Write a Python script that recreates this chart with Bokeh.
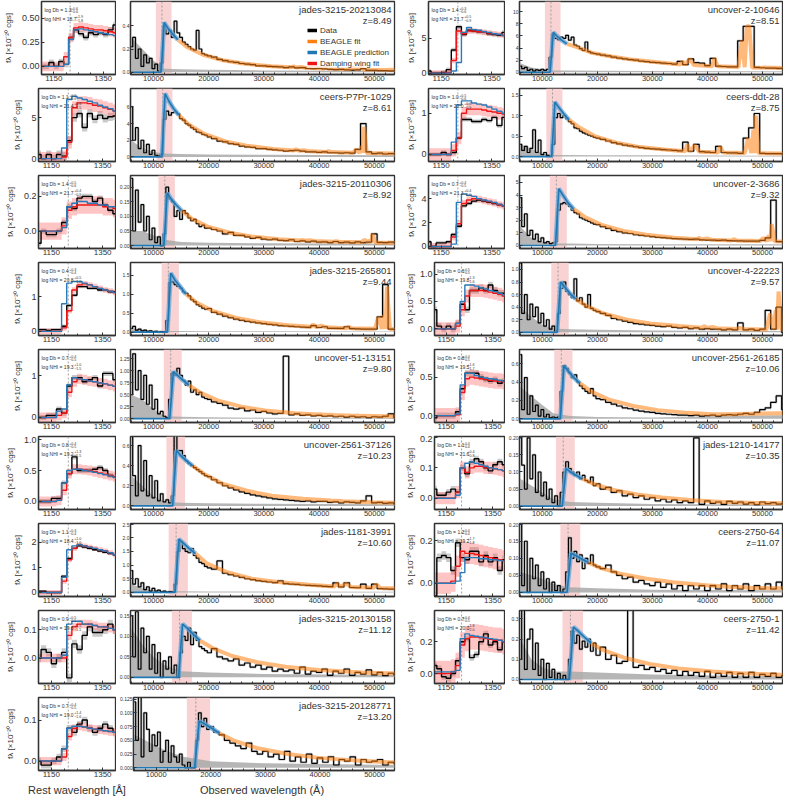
import numpy as np
from bokeh.plotting import figure
from bokeh.layouts import column, row
from bokeh.models import (Range1d, FixedTicker, BoxAnnotation, Span, Legend, LegendItem,
                          Label, PrintfTickFormatter, Div)
from bokeh.embed import file_html
from bokeh.resources import INLINE

FONT = "Liberation Sans"
INK = "#333333"
ORANGE = "#ff7f0e"
BLUE = "#1f77b4"
RED = "#f01414"

# ---------------- panel meta data ----------------
NAMES = ["jades-3215-20213084", "ceers-P7Pr-1029", "jades-3215-20110306", "jades-3215-265801",
         "uncover-51-13151", "uncover-2561-37126", "jades-1181-3991", "jades-3215-20130158",
         "jades-3215-20128771",
         "uncover-2-10646", "ceers-ddt-28", "uncover-2-3686", "uncover-4-22223",
         "uncover-2561-26185", "jades-1210-14177", "ceers-2750-64", "ceers-2750-1"]
ZS = [8.49, 8.61, 8.92, 9.44, 9.80, 10.23, 10.60, 11.12, 13.20,
      8.51, 8.75, 9.32, 9.57, 10.06, 10.35, 11.07, 11.42]
DB = [1.3, 1.1, 1.4, 0.4, 0.7, 0.8, 1.1, 0.9, 0.7, 1.4, 1.0, 0.7, 0.6, 0.8, 1.1, 1.2, 0.7]
DB_UP = ["0.6", "0.5", "0.5", "0.3", "0.4", "0.4", "0.3", "0.5", "0.4", "0.3", "0.5", "0.4", "0.5", "0.4", "0.4", "0.4", "0.4"]
DB_LO = ["0.6", "0.6", "0.6", "0.4", "0.5", "0.5", "0.4", "0.5", "0.5", "0.6", "0.6", "0.5", "0.5", "0.5", "0.4", "0.4", "0.5"]
NHI = [18.7, 21.4, 21.7, 20.8, 19.3, 19.2, 18.4, 19.6, 19.0, 21.7, 22.0, 21.3, 19.8, 19.5, 21.6, 19.2, 20.0]
NHI_UP = ["1.9", "0.6", "0.4", "0.5", "1.0", "1.3", "1.0", "1.5", "1.4", "0.5", "0.6", "0.4", "1.3", "1.6", "0.4", "1.7", "1.8"]
NHI_LO = ["1.8", "1.5", "0.9", "1.0", "1.5", "1.5", "1.0", "1.5", "1.6", "0.9", "0.9", "1.0", "1.6", "1.7", "0.8", "1.8", "2.0"]

# y ranges / ticks (small = rest-frame zoom, big = full spectrum)
S_YR = [(-0.085, 0.675), (-0.35, 8.55), (-0.1, 0.32), (-0.12, 2.0), (-0.12, 1.62), (-0.13, 1.05),
        (-0.16, 2.74), (-0.09, 0.168), (-0.023, 0.155),
        (-0.2, 10.2), (-0.17, 1.6), (-0.17, 5.95), (-0.12, 1.21), (-0.09, 0.86), (-0.037, 0.203),
        (-0.062, 0.28), (-0.063, 0.397)]
S_TICKS = [[0, 0.25, 0.5], [0, 5], [0, 0.2], [0, 1], [0, 1], [0, 0.5, 1.0], [0, 1, 2], [0, 0.1], [0, 0.1],
           [0, 5], [0, 1], [0, 2, 4], [0, 0.5, 1.0], [0, 0.5], [0, 0.1, 0.2], [0, 0.2], [0, 0.2]]
S_DEC = [2, 0, 1, 0, 0, 1, 0, 1, 1, 0, 0, 0, 1, 1, 1, 1, 1]
B_YR = [(-0.02, 0.61), (-0.55, 8.2), (-0.01, 0.24), (-0.09, 1.83), (-0.08, 1.44), (-0.036, 0.69),
        (-0.15, 2.52), (-0.015, 0.163), (-0.005, 0.128),
        (-0.37, 11.7), (-0.12, 1.66), (-0.24, 5.55), (-0.05, 1.11), (-0.04, 0.756), (-0.01, 0.204),
        (-0.012, 0.202), (-0.02, 0.342)]
B_TICKS = [[0, 0.2, 0.4], [0, 2, 4, 6], [0, 0.05, 0.1, 0.15, 0.2], [0, 0.5, 1.0, 1.5],
           [0, 0.25, 0.5, 0.75, 1.0, 1.25], [0, 0.2, 0.4, 0.6], [0, 0.5, 1.0, 1.5, 2.0, 2.5],
           [0, 0.05, 0.1, 0.15], [0, 0.025, 0.05, 0.075, 0.1, 0.125],
           [0, 2, 4, 6, 8, 10], [0, 0.5, 1.0, 1.5], [0, 1, 2, 3, 4, 5], [0, 0.2, 0.4, 0.6, 0.8, 1.0],
           [0, 0.2, 0.4, 0.6], [0, 0.05, 0.1, 0.15, 0.2], [0, 0.05, 0.1, 0.15, 0.2], [0, 0.1, 0.2, 0.3]]
B_DEC = [1, 0, 2, 1, 2, 1, 1, 2, 3, 0, 1, 0, 1, 1, 2, 2, 1]

BX0, BX1 = 5850, 53650
BIG_XT = [10000, 20000, 30000, 40000, 50000]
BIG_XMT = [6000, 8000, 12000, 14000, 16000, 18000, 22000, 24000, 26000, 28000, 32000, 34000, 36000,
           38000, 42000, 44000, 46000, 48000, 52000]
SMALL_XT = [1150, 1350]
SMALL_XMT = [1100, 1200, 1250, 1300, 1400]
X_LABELS = ["Rest wavelength [Å]", "Observed wavelength (Å)"]

# ---------------- wavelength grids ----------------
OBS_W = [6000, 6500, 7000, 7500, 8000, 8500, 9000, 9500,
         10000, 10500, 11000, 11500, 12000, 12500, 13000, 13500,
         14000, 14500, 15000, 15500, 16000, 16500, 17000, 17500,
         18000, 18500, 19000, 19500, 20000,
         21000, 22000, 23000, 24000, 25000, 26000, 27000, 28000, 29000, 30000,
         31000, 32000, 33000, 34000, 35000, 36000, 37000, 38000, 39000, 40000,
         41000, 42000, 43000, 44000, 45000, 46000, 47000, 48000, 49000, 50000,
         51000, 52000, 53000, 54000]
REST_M = [1200, 1260, 1330, 1420, 1520, 1700, 2000, 2400, 2800, 3300, 3690, 3727, 3780, 3869, 3950,
          4300, 4340, 4400, 4800, 4861, 4920, 4959, 4983, 5007, 5060, 5700]
ERR_W = [6000, 8000, 10000, 12000, 15000, 20000, 30000, 54000]
REST_S = [1100, 1120, 1140, 1160, 1180, 1200, 1220, 1240, 1260, 1280, 1300, 1320, 1340, 1360, 1380, 1400]

# ---------------- observed spectra (on OBS_W) ----------------
OBS_L1 = [0.22, 0.30, 0.12, 0.20, 0.05, 0.15, 0.08, 0.12,
          0.03, 0.07, 0.01, 0.08, 0.40, 0.33, 0.36, 0.30,
          0.44, 0.34, 0.30, 0.26, 0.24, 0.22, 0.20, 0.19,
          0.36, 0.20, 0.16, 0.15, 0.14,
          0.13, 0.11, 0.10, 0.09, 0.085, 0.075, 0.07, 0.065, 0.055, 0.055,
          0.05, 0.048, 0.045, 0.04, 0.045, 0.038, 0.04, 0.033, 0.03, 0.032,
          0.028, 0.025, 0.022, 0.024, 0.02, 0.018, 0.02, 0.03, 0.015, 0.016,
          0.014, 0.013, 0.012, 0.012]
OBS_L2 = [6.0, 2.0, 3.5, 1.0, 2.0, 0.5, 1.5, 0.3,
          0.8, 0.2, 0.1, 0.3, 4.5, 5.5, 5.0, 5.3,
          5.4, 5.2, 4.6, 4.4, 4.0, 3.8, 3.5, 3.3,
          3.0, 2.9, 2.7, 2.6, 2.4,
          2.2, 1.9, 1.8, 1.6, 1.5, 1.3, 1.2, 1.15, 1.0, 1.0,
          0.9, 0.85, 0.8, 0.7, 0.75, 0.8, 0.7, 0.6, 0.6, 0.55,
          0.6, 0.5, 0.5, 0.45, 0.5, 0.45, 0.9, 4.0, 0.6, 0.4,
          0.45, 0.35, 0.4, 0.4]
OBS_L3 = [0.23, 0.05, 0.19, 0.08, 0.14, 0.05, 0.10, 0.02,
          0.06, 0.01, 0.03, 0.0, 0.04, 0.20, 0.16, 0.15,
          0.10, 0.12, 0.09, 0.12, 0.11, 0.095, 0.085, 0.09,
          0.075, 0.065, 0.07, 0.06, 0.06,
          0.055, 0.05, 0.04, 0.045, 0.035, 0.035, 0.03, 0.025, 0.028, 0.022,
          0.02, 0.022, 0.018, 0.017, 0.02, 0.014, 0.016, 0.013, 0.015, 0.012,
          0.013, 0.01, 0.014, 0.01, 0.012, 0.009, 0.013, 0.01, 0.012, 0.04,
          0.011, 0.01, 0.012, 0.01]
OBS_L4 = [0.10, 0.15, 0.05, 0.08, 0.03, 0.05, 0.02, 0.03,
          0.01, 0.02, 0.0, 0.01, 0.0, 0.3, 1.3, 1.32,
          1.25, 1.2, 1.15, 1.05, 1.02, 0.95, 0.85, 0.8,
          0.72, 0.68, 0.63, 0.6, 0.62,
          0.52, 0.47, 0.42, 0.38, 0.34, 0.31, 0.28, 0.26, 0.24, 0.22,
          0.2, 0.19, 0.17, 0.16, 0.15, 0.14, 0.13, 0.125, 0.17, 0.12,
          0.14, 0.1, 0.1, 0.095, 0.14, 0.09, 0.085, 0.08, 0.08, 0.08,
          0.4, 1.25, 0.08, 0.07]
OBS_L5 = [0.5, 1.35, 0.6, 1.0, 0.4, 0.9, 0.3, 0.7,
          0.2, 0.4, 0.1, 0.15, 0.05, 0.02, 0.4, 0.95,
          0.9, 1.05, 0.9, 0.8, 0.7, 0.78, 0.55, 0.6,
          0.5, 0.55, 0.45, 0.42, 0.4,
          0.35, 0.32, 0.28, 0.22, 0.2, 0.22, 0.16, 0.18, 0.13, 0.15,
          0.12, 0.1, 0.11, 1.3, 0.08, 0.1, 0.07, 0.08, 0.06, 0.07,
          0.05, 0.06, 0.04, 0.05, 0.03, 0.05, 0.03, 0.04, 0.02, 0.04,
          0.03, 0.05, 0.1, 0.02]
OBS_L6 = [0.78, 0.3, 0.1, 0.6, 0.15, 0.45, 0.1, 0.3,
          0.08, 0.25, 0.05, 0.12, 0.04, 0.06, 0.03, 0.1,
          0.72, 0.55, 0.55, 0.5, 0.45, 0.42, 0.4, 0.38,
          0.36, 0.34, 0.32, 0.3, 0.29,
          0.26, 0.23, 0.2, 0.18, 0.16, 0.14, 0.125, 0.11, 0.1, 0.09,
          0.08, 0.07, 0.065, 0.06, 0.055, 0.05, 0.045, 0.05, 0.04, 0.045,
          0.045, 0.035, 0.04, 0.03, 0.04, 0.035, 0.03, 0.05, 0.1, 0.03,
          0.035, 0.025, 0.03, 0.02]
OBS_L7 = [0.8, 0.3, 0.5, 0.2, 0.35, 0.1, 0.2, 0.05,
          0.15, 0.05, 0.08, 0.02, 0.05, 0.01, 0.03, 0.02,
          0.3, 1.5, 1.85, 1.6, 1.5, 1.45, 1.6, 1.35,
          1.25, 1.1, 1.05, 0.95, 0.9,
          0.85, 1.15, 0.7, 0.65, 0.6, 0.55, 0.5, 0.47, 0.43, 0.4,
          0.38, 0.36, 0.42, 0.32, 0.3, 0.29, 0.27, 0.26, 0.25, 0.24,
          0.22, 0.21, 0.35, 0.2, 0.35, 0.18, 0.17, 0.3, 0.15, 0.3,
          0.14, 0.13, 0.12, 0.12]
OBS_L8 = [0.15, 0.05, 0.16, 0.02, 0.12, 0.06, 0.1, 0.02,
          0.08, 0.01, 0.06, 0.0, 0.04, 0.02, 0.05, 0.01,
          0.03, 0.0, 0.06, 0.1, 0.09, 0.12, 0.08, 0.11,
          0.09, 0.075, 0.07, 0.065, 0.06,
          0.07, 0.05, 0.045, 0.04, 0.045, 0.03, 0.035, 0.025, 0.03, 0.02,
          0.025, 0.015, 0.02, 0.015, 0.018, 0.01, 0.025, 0.008, 0.015, 0.012,
          0.02, 0.005, 0.015, 0.01, 0.02, 0.005, 0.012, 0.008, 0.018, 0.006,
          0.012, 0.004, 0.01, 0.006]
OBS_L9 = [0.12, 0.05, 0.13, 0.02, 0.1, 0.07, 0.03, 0.06,
          0.04, 0.065, 0.01, 0.03, 0.05, 0.01, 0.04, 0.02,
          0.01, 0.025, 0.005, 0.0, 0.01, 0.0, 0.0, 0.05,
          0.1, 0.075, 0.09, 0.07, 0.075,
          0.065, 0.06, 0.05, 0.045, 0.04, 0.035, 0.045, 0.03, 0.025, 0.03,
          0.02, 0.025, 0.015, 0.03, 0.012, 0.02, 0.01, 0.025, 0.008, 0.018,
          0.01, 0.02, 0.005, 0.015, 0.012, 0.02, 0.005, 0.015, 0.01, 0.012,
          0.015, 0.005, 0.01, 0.008]
OBS_R1 = [1.0, 0.6, 0.8, 0.3, 0.5, 0.2, 0.4, 0.3,
          0.5, 0.3, 0.5, 2.5, 6.2, 5.6, 5.4, 5.8,
          5.6, 6.1, 5.3, 5.8, 4.5, 4.3, 3.9, 3.6,
          5.0, 3.4, 3.2, 3.1, 3.0,
          2.85, 2.7, 2.5, 2.35, 2.2, 2.1, 2.0, 1.85, 1.75, 1.65,
          1.6, 1.5, 1.45, 1.35, 1.8, 1.25, 2.2, 1.6, 1.5, 1.1,
          2.3, 1.0, 0.95, 0.9, 0.9, 5.2, 7.6, 7.6, 0.8, 0.75,
          0.7, 0.7, 0.65, 0.65]
OBS_R2 = [0.3, 0.15, 0.25, 0.1, 0.2, 0.65, 0.1, 0.4,
          0.05, 0.1, 0.03, 0.02, 0.3, 0.95, 1.05, 0.95,
          1.0, 0.92, 0.85, 0.8, 0.7, 0.68, 0.62, 0.58,
          0.55, 0.52, 0.5, 0.47, 0.45,
          0.42, 0.38, 0.34, 0.31, 0.28, 0.26, 0.24, 0.22, 0.2, 0.19,
          0.18, 0.17, 0.16, 0.15, 0.14, 0.35, 0.13, 0.3, 0.12, 0.11,
          0.1, 0.25, 0.1, 0.09, 0.09, 0.08, 0.45, 0.7, 1.05, 0.08,
          0.07, 0.07, 0.07, 0.06]
OBS_R3 = [3.8, 1.5, 2.5, 0.8, 1.2, 0.5, 0.9, 0.3,
          0.6, 0.2, 0.3, 0.15, 0.2, 0.3, 2.8, 3.3,
          3.4, 3.3, 3.1, 2.8, 2.6, 2.5, 2.2, 2.1,
          2.0, 1.9, 1.8, 1.7, 1.65,
          1.5, 1.35, 1.2, 1.1, 1.0, 0.95, 0.85, 0.8, 0.75, 0.7,
          0.65, 0.62, 0.58, 0.55, 0.52, 0.5, 0.48, 0.5, 0.45, 0.43,
          0.42, 0.4, 0.42, 0.38, 0.37, 0.36, 0.35, 0.35, 0.34, 0.4,
          0.6, 3.6, 0.3, 0.3]
OBS_R4 = [1.1, 0.3, 0.6, 0.2, 0.45, 0.25, 0.4, 0.15,
          0.3, 0.1, 0.2, 0.05, 0.1, 0.02, 0.3, 0.7,
          0.8, 0.65, 0.6, 0.55, 0.85, 0.5, 0.55, 0.45,
          0.4, 0.6, 0.38, 0.35, 0.33,
          0.3, 0.27, 0.22, 0.2, 0.18, 0.16, 0.14, 0.13, 0.12, 0.11,
          0.1, 0.09, 0.1, 0.08, 0.07, 0.08, 0.06, 0.07, 0.05, 0.06,
          0.05, 0.05, 0.04, 0.05, 0.04, 0.15, 0.04, 0.05, 0.03, 0.05,
          0.35, 0.05, 0.4, 0.0]
OBS_R5 = [0.7, 0.1, 0.45, 0.05, 0.25, 0.08, 0.15, 0.03,
          0.1, 0.02, 0.05, 0.01, 0.02, 0.01, 0.02, 0.3,
          0.58, 0.55, 0.5, 0.45, 0.48, 0.4, 0.36, 0.33,
          0.3, 0.28, 0.33, 0.25, 0.22,
          0.21, 0.18, 0.16, 0.14, 0.12, 0.11, 0.095, 0.085, 0.075, 0.07,
          0.06, 0.055, 0.05, 0.045, 0.04, 0.04, 0.035, 0.04, 0.03, 0.035,
          0.04, 0.03, 0.04, 0.045, 0.04, 0.05, 0.06, 0.05, 0.07, 0.1,
          0.12, 0.18, 0.25, 0.1]
OBS_R6 = [0.2, 0.12, 0.05, 0.2, 0.08, 0.15, 0.04, 0.1,
          0.03, 0.07, 0.02, 0.05, 0.01, 0.03, 0.0, 0.04,
          0.1, 0.13, 0.11, 0.1, 0.09, 0.1, 0.08, 0.09,
          0.075, 0.07, 0.085, 0.06, 0.065,
          0.05, 0.055, 0.04, 0.045, 0.03, 0.035, 0.025, 0.03, 0.02, 0.025,
          0.015, 0.02, 0.012, 0.018, 0.01, 0.015, 0.01, 0.2, 0.005, 0.015,
          0.008, 0.012, 0.005, 0.014, 0.008, 0.012, 0.006, 0.01, 0.004, 0.012,
          0.007, 0.01, 0.006, 0.008]
OBS_R7 = [0.2, 0.02, 0.15, 0.0, 0.1, 0.04, 0.08, 0.02,
          0.06, 0.01, 0.04, 0.0, 0.03, 0.005, 0.02, 0.0,
          0.01, 0.06, 0.16, 0.1, 0.12, 0.09, 0.11, 0.07,
          0.1, 0.085, 0.11, 0.08, 0.075,
          0.07, 0.08, 0.06, 0.05, 0.04, 0.045, 0.03, 0.035, 0.025, 0.02,
          0.03, 0.015, 0.025, 0.01, 0.02, 0.005, 0.02, 0.01, 0.02, 0.005,
          0.02, 0.01, 0.025, 0.005, 0.02, 0.01, 0.025, 0.005, 0.02, 0.01,
          0.025, 0.01, 0.03, 0.01]
OBS_R8 = [0.1, 0.35, 0.05, 0.2, 0.25, 0.05, 0.18, 0.02,
          0.1, 0.0, 0.08, 0.01, 0.05, 0.0, 0.03, 0.0,
          0.02, 0.0, 0.1, 0.24, 0.18, 0.22, 0.15, 0.19,
          0.16, 0.2, 0.14, 0.18, 0.12,
          0.16, 0.1, 0.12, 0.08, 0.09, 0.35, 0.06, 0.07, 0.05, 0.06,
          0.04, 0.05, 0.03, 0.045, 0.02, 0.04, 0.02, 0.035, 0.015, 0.04,
          0.01, 0.03, 0.015, 0.035, 0.01, 0.03, 0.01, 0.035, 0.01, 0.025,
          0.015, 0.03, 0.01, 0.02]

# ---------------- BEAGLE model (on REST_M) ----------------
MOD_L1 = [0, 0.43, 0.38, 0.33, 0.28, 0.215, 0.15, 0.10, 0.072, 0.052, 0.042, 0.05, 0.041, 0.045, 0.039, 0.032, 0.04, 0.031, 0.026, 0.04, 0.025, 0.035, 0.025, 0.05, 0.024, 0.02]
MOD_L2 = [0, 7.6, 6.7, 5.8, 5.0, 3.9, 2.75, 1.85, 1.35, 0.95, 0.78, 0.9, 0.74, 0.8, 0.70, 0.6, 0.7, 0.58, 0.5, 0.9, 0.48, 1.3, 0.47, 3.6, 0.46, 0.4]
MOD_L3 = [0, 0.18, 0.16, 0.14, 0.12, 0.093, 0.065, 0.044, 0.031, 0.022, 0.017, 0.019, 0.017, 0.018, 0.016, 0.013, 0.015, 0.013, 0.011, 0.02, 0.011, 0.018, 0.011, 0.04, 0.010, 0.009]
MOD_L4 = [0, 1.55, 1.37, 1.2, 1.0, 0.78, 0.55, 0.37, 0.26, 0.18, 0.14, 0.2, 0.135, 0.17, 0.125, 0.10, 0.14, 0.098, 0.085, 0.4, 0.082, 0.45, 0.082, 1.2, 0.078, 0.07]
MOD_L5 = [0, 0.98, 0.9, 0.8, 0.7, 0.55, 0.38, 0.25, 0.17, 0.115, 0.085, 0.09, 0.08, 0.082, 0.075, 0.06, 0.065, 0.058, 0.048, 0.06, 0.046, 0.05, 0.045, 0.08, 0.044, 0.038]
MOD_L6 = [0, 0.55, 0.5, 0.45, 0.40, 0.32, 0.22, 0.15, 0.1, 0.07, 0.055, 0.055, 0.05, 0.05, 0.045, 0.038, 0.04, 0.036, 0.032, 0.035, 0.031, 0.033, 0.031, 0.045, 0.03, 0.028]
MOD_L7 = [0, 1.95, 1.8, 1.6, 1.42, 1.05, 0.75, 0.5, 0.38, 0.28, 0.22, 0.33, 0.21, 0.32, 0.2, 0.17, 0.3, 0.16, 0.14, 0.14, 0.14, 0.14, 0.14, 0.14, 0.13, 0.12]
MOD_L8 = [0, 0.13, 0.12, 0.105, 0.09, 0.072, 0.052, 0.036, 0.026, 0.018, 0.014, 0.015, 0.013, 0.013, 0.012, 0.01, 0.01, 0.01, 0.009, 0.009, 0.009, 0.009, 0.009, 0.009, 0.008, 0.008]
MOD_L9 = [0, 0.085, 0.08, 0.072, 0.063, 0.05, 0.036, 0.025, 0.018, 0.013, 0.01, 0.01, 0.01, 0.01, 0.01, 0.01, 0.01, 0.01, 0.01, 0.01, 0.01, 0.01, 0.01, 0.01, 0.01, 0.01]
MOD_R1 = [0, 6.6, 6.0, 5.3, 4.7, 4.2, 3.2, 2.55, 2.05, 1.6, 1.3, 1.8, 1.25, 2.2, 1.2, 1.0, 2.3, 0.98, 0.85, 5.2, 0.83, 7.6, 7.6, 7.6, 0.8, 0.7]
MOD_R2 = [0, 1.33, 1.2, 1.05, 0.9, 0.72, 0.5, 0.34, 0.24, 0.17, 0.13, 0.3, 0.125, 0.28, 0.12, 0.1, 0.25, 0.098, 0.085, 0.45, 0.083, 0.65, 0.083, 1.0, 0.08, 0.07]
MOD_R3 = [0, 4.5, 4.0, 3.4, 2.9, 2.3, 1.65, 1.15, 0.85, 0.62, 0.5, 0.6, 0.48, 0.55, 0.46, 0.4, 0.5, 0.39, 0.35, 0.6, 0.34, 0.8, 0.34, 1.7, 0.33, 0.3]
MOD_R4 = [0, 0.8, 0.72, 0.62, 0.53, 0.42, 0.3, 0.2, 0.14, 0.1, 0.075, 0.1, 0.07, 0.085, 0.065, 0.055, 0.07, 0.053, 0.045, 0.3, 0.044, 0.35, 0.044, 0.65, 0.04, 0.035]
MOD_R5 = [0, 0.58, 0.52, 0.45, 0.39, 0.3, 0.21, 0.14, 0.095, 0.065, 0.05, 0.05, 0.05, 0.05, 0.05, 0.055, 0.055, 0.056, 0.06, 0.06, 0.062, 0.062, 0.063, 0.063, 0.064, 0.07]
MOD_R6 = [0, 0.11, 0.1, 0.09, 0.08, 0.065, 0.048, 0.034, 0.025, 0.017, 0.013, 0.013, 0.012, 0.012, 0.011, 0.009, 0.009, 0.009, 0.008, 0.008, 0.008, 0.008, 0.008, 0.008, 0.007, 0.007]
MOD_R7 = [0, 0.115, 0.108, 0.098, 0.088, 0.072, 0.055, 0.04, 0.03, 0.021, 0.016, 0.016, 0.015, 0.015, 0.014, 0.012, 0.012, 0.012, 0.011, 0.011, 0.011, 0.011, 0.011, 0.011, 0.01, 0.01]
MOD_R8 = [0, 0.26, 0.24, 0.21, 0.18, 0.145, 0.108, 0.075, 0.055, 0.04, 0.031, 0.03, 0.03, 0.029, 0.028, 0.024, 0.024, 0.023, 0.02, 0.02, 0.02, 0.02, 0.02, 0.02, 0.019, 0.018]

# ---------------- noise level (on ERR_W) ----------------
ERR_L1 = [0.30, 0.2, 0.1, 0.03, 0.025, 0.02, 0.015, 0.01]
ERR_L2 = [2.0, 1.0, 0.6, 0.4, 0.35, 0.3, 0.25, 0.2]
ERR_L3 = [0.05, 0.05, 0.035, 0.02, 0.012, 0.01, 0.008, 0.006]
ERR_L4 = [0.1, 0.06, 0.04, 0.03, 0.03, 0.025, 0.02, 0.015]
ERR_L5 = [0.5, 0.4, 0.2, 0.05, 0.04, 0.03, 0.02, 0.015]
ERR_L6 = [0.3, 0.2, 0.1, 0.04, 0.03, 0.025, 0.02, 0.015]
ERR_L7 = [0.3, 0.15, 0.08, 0.05, 0.04, 0.03, 0.03, 0.02]
ERR_L8 = [0.12, 0.08, 0.05, 0.03, 0.015, 0.012, 0.008, 0.006]
ERR_L9 = [0.06, 0.05, 0.04, 0.03, 0.02, 0.012, 0.008, 0.005]
ERR_R1 = [1.5, 0.8, 0.5, 0.3, 0.3, 0.25, 0.2, 0.15]
ERR_R2 = [0.3, 0.2, 0.08, 0.04, 0.04, 0.03, 0.03, 0.02]
ERR_R3 = [1.5, 0.6, 0.3, 0.15, 0.15, 0.12, 0.1, 0.1]
ERR_R4 = [0.4, 0.25, 0.12, 0.06, 0.05, 0.04, 0.03, 0.02]
ERR_R5 = [0.35, 0.25, 0.15, 0.06, 0.03, 0.02, 0.015, 0.04]
ERR_R6 = [0.08, 0.06, 0.04, 0.02, 0.012, 0.01, 0.006, 0.004]
ERR_R7 = [0.06, 0.05, 0.04, 0.025, 0.015, 0.012, 0.008, 0.006]
ERR_R8 = [0.2, 0.1, 0.06, 0.04, 0.04, 0.035, 0.025, 0.015]

# ---------------- rest-frame zoom (on REST_S) ----------------
SD_L1 = [0.0, 0.0, 0.04, 0.0, 0.05, 0.02, 0.30, 0.38, 0.34, 0.30, 0.35, 0.33, 0.35, 0.33, 0.38, 0.43]
SB_L1 = [0, 0, 0, 0, 0, 0.02, 0.28, 0.38, 0.39, 0.38, 0.37, 0.36, 0.35, 0.34, 0.33, 0.32]
SR_L1 = [0, 0, 0, 0, 0, 0.1, 0.30, 0.40, 0.41, 0.40, 0.39, 0.38, 0.38, 0.37, 0.36, 0.35]
SD_L2 = [0.5, 0.0, 0.5, 0.0, 0.5, 0.3, 2.2, 5.0, 5.5, 3.8, 5.5, 4.8, 5.3, 4.9, 5.1, 5.2]
SB_L2 = [0, 0, 0, 0, 0, 1.3, 7.2, 7.6, 7.4, 7.2, 7.0, 6.8, 6.5, 6.3, 6.1, 5.8]
SR_L2 = [0, 0, 0, 0, 0, 0.2, 2.0, 6.2, 6.8, 6.8, 6.7, 6.5, 6.4, 6.2, 6.0, 5.8]
SD_L3 = [-0.07, 0.0, -0.02, -0.02, 0.0, 0.05, 0.14, 0.13, 0.19, 0.2, 0.2, 0.17, 0.19, 0.15, 0.12, 0.1]
SB_L3 = [0, 0, 0, 0, 0, 0.02, 0.14, 0.16, 0.17, 0.17, 0.16, 0.16, 0.15, 0.15, 0.14, 0.14]
SR_L3 = [0, 0, 0, 0, 0, 0.03, 0.12, 0.14, 0.15, 0.15, 0.15, 0.15, 0.15, 0.14, 0.14, 0.13]
SD_L4 = [0.05, 0.05, 0.03, 0.05, 0.05, 0.15, 0.75, 1.05, 1.3, 1.3, 1.25, 1.25, 1.2, 1.2, 1.15, 1.15]
SB_L4 = [0, 0, 0, 0, 0, 0.8, 1.4, 1.45, 1.45, 1.4, 1.35, 1.3, 1.25, 1.2, 1.17, 1.13]
SR_L4 = [0, 0, 0, 0, 0, 0.1, 0.6, 1.2, 1.35, 1.38, 1.35, 1.3, 1.25, 1.2, 1.17, 1.13]
SD_L5 = [0.0, 0.0, 0.05, 0.05, 0.2, 0.1, 0.75, 0.95, 0.95, 0.85, 0.9, 0.95, 0.75, 1.05, 1.05, 0.9]
SB_L5 = [0, 0, 0, 0, 0.15, 0.2, 0.78, 0.95, 0.92, 0.9, 0.87, 0.85, 0.82, 0.8, 0.77, 0.74]
SR_L5 = [0, 0, 0, 0, 0.05, 0.1, 0.6, 0.85, 0.92, 0.9, 0.87, 0.85, 0.82, 0.8, 0.77, 0.74]
SD_L6 = [0.0, 0.0, 0.0, 0.05, 0.05, 0.3, 0.45, 0.72, 0.5, 0.5, 0.5, 0.52, 0.55, 0.5, 0.42, 0.4]
SB_L6 = [0, 0, 0, 0, 0.02, 0.3, 0.5, 0.52, 0.52, 0.5, 0.49, 0.47, 0.45, 0.43, 0.41, 0.39]
SR_L6 = [0, 0, 0, 0, 0.02, 0.18, 0.45, 0.52, 0.52, 0.51, 0.5, 0.48, 0.46, 0.44, 0.42, 0.40]
SD_L7 = [0.05, 0.05, 0.0, 0.0, 0.0, 0.65, 1.35, 1.75, 1.85, 1.8, 1.75, 1.7, 1.65, 1.6, 1.55, 1.5]
SB_L7 = [0, 0, 0, 0, 0, 0.6, 1.7, 1.85, 1.9, 1.85, 1.8, 1.75, 1.7, 1.65, 1.58, 1.5]
SR_L7 = [0, 0, 0, 0, 0, 0.45, 1.3, 1.75, 1.9, 1.85, 1.8, 1.75, 1.7, 1.65, 1.58, 1.5]
SD_L8 = [0.0, 0.03, 0.02, -0.02, 0.0, 0.02, -0.07, 0.05, 0.03, 0.08, 0.11, 0.09, 0.09, 0.1, 0.12, 0.1]
SB_L8 = [0, 0, 0, 0, 0, 0.01, 0.12, 0.13, 0.13, 0.12, 0.12, 0.115, 0.11, 0.11, 0.105, 0.10]
SR_L8 = [0, 0, 0, 0, 0, 0.0, 0.08, 0.11, 0.12, 0.12, 0.12, 0.115, 0.11, 0.11, 0.105, 0.10]
SD_L9 = [0.0, -0.01, -0.01, 0.0, 0.01, 0.03, 0.08, 0.07, 0.09, 0.1, 0.08, 0.07, 0.08, 0.09, 0.08, 0.07]
SB_L9 = [0, 0, 0, 0, 0, 0.03, 0.08, 0.085, 0.085, 0.083, 0.08, 0.078, 0.076, 0.074, 0.072, 0.07]
SR_L9 = [0, 0, 0, 0, 0, 0.01, 0.06, 0.08, 0.085, 0.083, 0.08, 0.078, 0.076, 0.074, 0.072, 0.07]
SD_R1 = [0.3, 0.0, 0.0, 0.1, 0.5, 3.3, 6.6, 5.5, 6.1, 6.0, 5.9, 5.8, 5.6, 5.5, 5.4, 5.8]
SB_R1 = [0, 0, 0, 0, 0, 0.3, 1.5, 5.8, 6.5, 6.2, 6.1, 5.9, 5.8, 5.6, 5.5, 5.3]
SR_R1 = [0, 0, 0, 0, 0.1, 1.8, 6.0, 5.6, 6.0, 6.0, 5.9, 5.8, 5.7, 5.6, 5.5, 5.4]
SD_R2 = [0.0, 0.0, 0.0, 0.05, 0.0, 0.05, 0.4, 0.85, 0.85, 0.8, 0.8, 0.85, 0.82, 0.9, 0.7, 0.9]
SB_R2 = [0, 0, 0, 0, 0, 0.3, 1.2, 1.3, 1.3, 1.25, 1.22, 1.2, 1.15, 1.1, 1.05, 1.0]
SR_R2 = [0, 0, 0, 0, 0, 0.1, 0.4, 1.0, 1.1, 1.1, 1.1, 1.08, 1.05, 1.03, 1.0, 0.98]
SD_R3 = [0.4, 0.0, 0.3, 0.3, 0.4, 1.0, 1.7, 3.4, 3.6, 3.8, 3.9, 3.8, 3.7, 3.6, 3.5, 3.4]
SB_R3 = [0, 0, 0, 0, 0, 0.2, 3.7, 4.4, 4.3, 4.2, 4.0, 3.9, 3.8, 3.7, 3.55, 3.4]
SR_R3 = [0, 0, 0, 0, 0, 0.8, 1.9, 3.6, 3.9, 4.0, 3.95, 3.85, 3.75, 3.65, 3.5, 3.4]
SD_R4 = [0.35, 0.05, 0.0, 0.05, 0.0, 0.1, 0.45, 0.35, 0.7, 0.7, 0.75, 0.7, 0.8, 0.7, 0.65, 0.65]
SB_R4 = [0, 0, 0, 0, 0, 0.1, 0.5, 0.8, 0.8, 0.78, 0.75, 0.73, 0.7, 0.68, 0.65, 0.62]
SR_R4 = [0, 0, 0, 0, 0, 0.05, 0.35, 0.6, 0.7, 0.7, 0.7, 0.69, 0.67, 0.65, 0.63, 0.6]
SD_R5 = [-0.03, 0.0, 0.0, 0.0, 0.0, 0.05, 0.35, 0.55, 0.55, 0.55, 0.5, 0.47, 0.45, 0.47, 0.42, 0.45]
SB_R5 = [0, 0, 0, 0, 0, 0.02, 0.4, 0.55, 0.55, 0.52, 0.5, 0.49, 0.48, 0.47, 0.46, 0.45]
SR_R5 = [0, 0, 0, 0, 0, 0.01, 0.3, 0.48, 0.5, 0.49, 0.48, 0.47, 0.46, 0.45, 0.45, 0.44]
SD_R6 = [0.03, 0.01, 0.01, 0.02, 0.03, 0.02, 0.1, 0.08, 0.12, 0.13, 0.12, 0.1, 0.09, 0.11, 0.12, 0.11]
SB_R6 = [0, 0, 0, 0, 0, 0.01, 0.1, 0.115, 0.12, 0.115, 0.11, 0.105, 0.1, 0.097, 0.094, 0.09]
SR_R6 = [0, 0, 0, 0, 0, 0.02, 0.1, 0.085, 0.1, 0.105, 0.105, 0.1, 0.1, 0.097, 0.094, 0.09]
SD_R7 = [-0.06, 0.12, 0.13, 0.12, 0.06, 0.19, 0.12, 0.11, 0.15, 0.15, 0.1, 0.13, 0.1, 0.12, 0.06, 0.11]
SB_R7 = [0, 0, 0, 0, 0, 0.01, 0.05, 0.12, 0.12, 0.12, 0.115, 0.115, 0.11, 0.11, 0.107, 0.105]
SR_R7 = [0, 0, 0, 0, 0.01, 0.08, 0.15, 0.14, 0.14, 0.135, 0.13, 0.125, 0.12, 0.115, 0.11, 0.105]
SD_R8 = [0.05, 0.03, -0.02, -0.03, 0.0, 0.08, 0.2, 0.22, 0.1, 0.12, 0.2, 0.25, 0.18, 0.2, 0.15, 0.2]
SB_R8 = [0.01, 0.01, 0.01, 0.01, 0.01, 0.02, 0.22, 0.25, 0.24, 0.235, 0.23, 0.225, 0.22, 0.215, 0.21, 0.2]
SR_R8 = [0, 0, 0, 0, 0.01, 0.05, 0.18, 0.22, 0.23, 0.23, 0.225, 0.22, 0.215, 0.21, 0.21, 0.2]
S_ERR = [0.03, 0.5, 0.015, 0.05, 0.06, 0.04, 0.05, 0.015, 0.008, 0.3, 0.05, 0.15, 0.06, 0.04, 0.01, 0.02, 0.02]
S_BAND = [0.05, 0.8, 0.05, 0.08, 0.12, 0.08, 0.1, 0.015, 0.01, 0.4, 0.15, 0.3, 0.12, 0.1, 0.02, 0.05, 0.08]

LEG_LABELS = ["Data", "BEAGLE fit", "BEAGLE prediction", "Damping wing fit"]

OBS = [OBS_L1, OBS_L2, OBS_L3, OBS_L4, OBS_L5, OBS_L6, OBS_L7, OBS_L8, OBS_L9,
       OBS_R1, OBS_R2, OBS_R3, OBS_R4, OBS_R5, OBS_R6, OBS_R7, OBS_R8]
MODS = [MOD_L1, MOD_L2, MOD_L3, MOD_L4, MOD_L5, MOD_L6, MOD_L7, MOD_L8, MOD_L9,
        MOD_R1, MOD_R2, MOD_R3, MOD_R4, MOD_R5, MOD_R6, MOD_R7, MOD_R8]
ERRS = [ERR_L1, ERR_L2, ERR_L3, ERR_L4, ERR_L5, ERR_L6, ERR_L7, ERR_L8, ERR_L9,
        ERR_R1, ERR_R2, ERR_R3, ERR_R4, ERR_R5, ERR_R6, ERR_R7, ERR_R8]
SDS = [SD_L1, SD_L2, SD_L3, SD_L4, SD_L5, SD_L6, SD_L7, SD_L8, SD_L9,
       SD_R1, SD_R2, SD_R3, SD_R4, SD_R5, SD_R6, SD_R7, SD_R8]
SBS = [SB_L1, SB_L2, SB_L3, SB_L4, SB_L5, SB_L6, SB_L7, SB_L8, SB_L9,
       SB_R1, SB_R2, SB_R3, SB_R4, SB_R5, SB_R6, SB_R7, SB_R8]
SRS = [SR_L1, SR_L2, SR_L3, SR_L4, SR_L5, SR_L6, SR_L7, SR_L8, SR_L9,
       SR_R1, SR_R2, SR_R3, SR_R4, SR_R5, SR_R6, SR_R7, SR_R8]

for k in range(17):
    assert len(OBS[k]) == len(OBS_W), ("OBS", k, len(OBS[k]))
    assert len(MODS[k]) == len(REST_M), ("MOD", k, len(MODS[k]))
    assert len(ERRS[k]) == len(ERR_W), ("ERR", k)
    assert len(SDS[k]) == len(SBS[k]) == len(SRS[k]) == len(REST_S), ("S", k)

FRAME_H = 73
AW = {'l': .222, 'i': .222, 'o': .556, 'g': .556, ' ': .278, 'D': .722, 'b': .556, '=': .584,
      '.': .278, 'N': .722, 'H': .722, 'I': .278}


def text_w(s, size):
    return sum(AW.get(c, .556) for c in s) * size


def style(p):
    p.grid.visible = False
    p.outline_line_color = INK
    p.outline_line_width = 1.3
    p.background_fill_color = "white"
    p.border_fill_color = "white"
    for ax in p.axis:
        ax.axis_line_color = INK
        ax.axis_line_width = 1.3
        ax.major_tick_in = 3
        ax.major_tick_out = 0
        ax.minor_tick_in = 2
        ax.minor_tick_out = 0
        ax.major_tick_line_color = INK
        ax.minor_tick_line_color = INK
        ax.major_label_text_font = FONT
        ax.major_label_text_color = INK
        ax.major_label_standoff = 1
        ax.axis_label_text_font = FONT
        ax.axis_label_text_font_style = "normal"
        ax.axis_label_text_color = INK


def lab(p, x, y, text, size, align="left", baseline="middle"):
    p.add_layout(Label(x=x, y=y, text=text, text_font=FONT, text_font_size=size,
                       text_color=INK, text_align=align, text_baseline=baseline))


def small_panel(k, lb, fw, rb, label_standoff):
    y0, y1 = S_YR[k]
    bb = 13
    p = figure(width=lb + fw + rb, height=1 + FRAME_H + bb,
               x_range=Range1d(1100, 1400), y_range=Range1d(y0, y1),
               output_backend="svg", toolbar_location=None,
               min_border_left=lb, min_border_right=rb, min_border_top=1, min_border_bottom=bb)
    style(p)
    p.xaxis.ticker = FixedTicker(ticks=SMALL_XT, minor_ticks=SMALL_XMT)
    p.yaxis.ticker = FixedTicker(ticks=S_TICKS[k])
    p.yaxis.formatter = PrintfTickFormatter(format="%." + str(S_DEC[k]) + "f")
    p.xaxis.major_label_text_font_size = "8px"
    p.yaxis.major_label_text_font_size = "9px"
    p.yaxis.major_label_standoff = 2
    p.yaxis.axis_label = "fλ [×10⁻²⁰ cgs]"
    p.yaxis.axis_label_text_font_size = "8px"
    p.yaxis.axis_label_standoff = label_standoff

    sw = np.array(REST_S, dtype=float)
    sd = np.array(SDS[k], dtype=float)
    sr = np.array(SRS[k], dtype=float)
    sb = np.array(SBS[k], dtype=float)
    p.add_layout(Span(location=1216, dimension="height", line_color="#8c8c8c",
                      line_dash="2 2", line_width=0.8, level="underlay"))
    p.varea_step(x=sw, y1=sd - S_ERR[k], y2=sd + S_ERR[k], step_mode="center",
                 fill_color="#bdbdbd", fill_alpha=0.8)
    p.varea_step(x=sw, y1=sr - S_BAND[k], y2=sr + S_BAND[k], step_mode="center",
                 fill_color="#ff5a5a", fill_alpha=0.35)
    p.step(sw, sd, mode="center", line_color="black", line_width=1.4)
    p.step(sw, sr, mode="center", line_color=RED, line_width=1.4)
    p.step(sw, sb, mode="center", line_color="#2a7ab9", line_width=1.4)

    # annotation (log D_b, log N_HI)
    sx = 300.0 / fw
    sy = (y1 - y0) / FRAME_H
    lines = [("log Db = %.1f" % DB[k], DB_UP[k], DB_LO[k]),
             ("log NHI = %.1f" % NHI[k], NHI_UP[k], NHI_LO[k])]
    for j, (main, up, lo) in enumerate(lines):
        X = 1100 + 3 * sx
        Y = y1 - (8.5 + 8.5 * j) * sy
        lab(p, X, Y, main, "5px")
        xe = 1100 + (3 + text_w(main, 5) + 0.6) * sx
        lab(p, xe, Y + 1.7 * sy, "+" + up, "3.6px")
        lab(p, xe, Y - 1.9 * sy, "−" + lo, "3.6px")
    return p


def big_panel(k, lb, fw, rb, legend=False):
    y0, y1 = B_YR[k]
    bb = 13
    p = figure(width=lb + fw + rb, height=1 + FRAME_H + bb,
               x_range=Range1d(BX0, BX1), y_range=Range1d(y0, y1),
               output_backend="svg", toolbar_location=None,
               min_border_left=lb, min_border_right=rb, min_border_top=1, min_border_bottom=bb)
    style(p)
    p.xaxis.ticker = FixedTicker(ticks=BIG_XT, minor_ticks=BIG_XMT)
    p.yaxis.ticker = FixedTicker(ticks=B_TICKS[k])
    p.yaxis.formatter = PrintfTickFormatter(format="%." + str(B_DEC[k]) + "f")
    p.xaxis.major_label_text_font_size = "7.5px"
    p.yaxis.major_label_text_font_size = "5px"
    p.yaxis.major_label_standoff = 1

    zf = 1.0 + ZS[k]
    p.add_layout(BoxAnnotation(left=1100 * zf, right=1400 * zf, fill_color="#f9d3d3",
                               fill_alpha=1.0, line_alpha=0, level="underlay"))
    p.add_layout(Span(location=1216 * zf, dimension="height", line_color="#8c8c8c",
                      line_dash="2 2", line_width=0.8, level="underlay"))
    err = np.array(ERRS[k], dtype=float)
    p.varea(x=ERR_W, y1=np.zeros_like(err), y2=err, fill_color="#a9a9a9", fill_alpha=0.85)

    p.step(OBS_W, OBS[k], mode="center", line_color="#9a9a9a", line_width=2.6, line_alpha=0.45)
    p.step(OBS_W, OBS[k], mode="center", line_color="black", line_width=1.2)

    xs = np.array(REST_M, dtype=float) * zf
    m = np.array(MODS[k], dtype=float)
    p.line(xs[4:], m[4:], line_color=ORANGE, line_width=4, line_alpha=0.55)
    p.line(xs[:5], m[:5], line_color="#6fa8d6", line_width=4.5, line_alpha=0.8)
    p.line(np.r_[BX0, xs[:5]], np.r_[0.0, m[:5]], line_color=BLUE, line_width=1.6)

    xr = BX1 - 3 * (BX1 - BX0) / fw
    sy = (y1 - y0) / FRAME_H
    lab(p, xr, y1 - 2.5 * sy, NAMES[k], "9.5px", align="right", baseline="top")
    lab(p, xr, y1 - 13.5 * sy, "z=%.2f" % ZS[k], "9.5px", align="right", baseline="top")

    if legend:
        rs = [p.line(x=[np.nan], y=[np.nan], line_color=c, line_width=3.5)
              for c in ("black", ORANGE, BLUE, RED)]
        lg = Legend(items=[LegendItem(label=t, renderers=[r], index=0) for t, r in zip(LEG_LABELS, rs)],
                    location=(177, 6), label_text_font=FONT, label_text_font_size="8px",
                    label_text_color=INK, glyph_width=10, glyph_height=10, label_height=10,
                    spacing=1, padding=0, margin=0, label_standoff=3,
                    border_line_alpha=0, background_fill_color="white", background_fill_alpha=0.65)
        p.add_layout(lg)
    return p


rows = []
for i in range(9):
    items = [small_panel(i, 38, 77, 1, 6),
             big_panel(i, 14, 264, 8, legend=(i == 0))]
    if i < 8:
        items += [small_panel(9 + i, 26, 76, 1, 2),
                  big_panel(9 + i, 14, 263, 1)]
    rows.append(row(*items, spacing=0))

label_html = ('<span style="display:inline-block;width:154px;text-align:center">%s</span>'
              '<span style="display:inline-block;width:216px;text-align:center">%s</span>'
              % (X_LABELS[0], X_LABELS[1]))
xlabels = Div(text=label_html, width=402, height=14, margin=0,
              styles={"font-family": FONT, "font-size": "11px", "color": INK,
                      "white-space": "nowrap", "line-height": "14px"})
rows.append(xlabels)

layout = column(*rows, spacing=0)

open("out.html", "w").write(file_html(layout, INLINE, title="Damping wing fits"))
